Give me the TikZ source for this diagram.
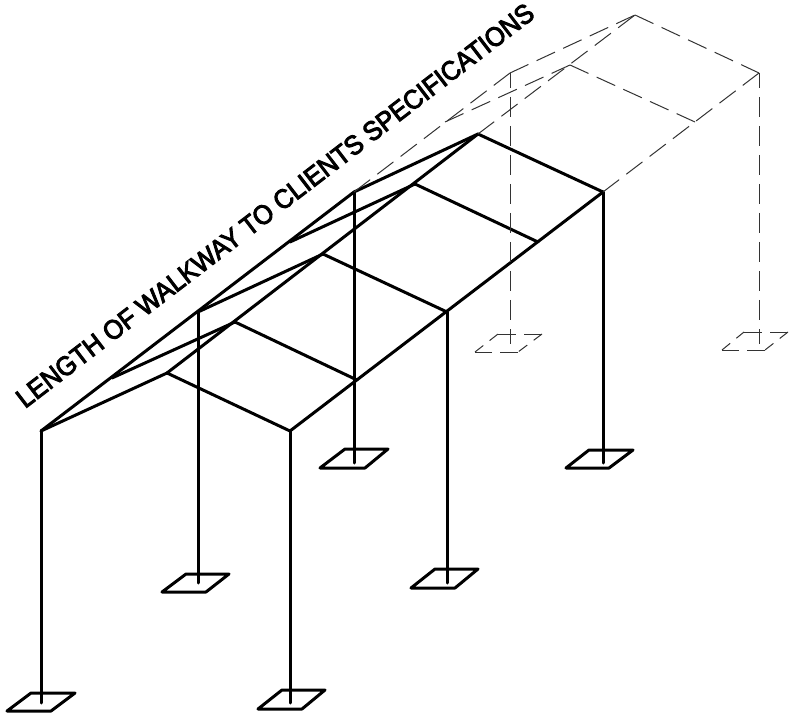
\documentclass[tikz,border=0pt]{standalone}
\usepackage{fontspec}
\newfontfamily\labfont[FakeBold=3.5,FakeStretch=0.93]{Liberation Sans}
\tikzset{
  frame/.style={line width=3pt,black,line cap=round,line join=round},
  ghost/.style={line width=1pt,black!80,dash pattern=on 20.3pt off 9pt},
  ghostpost/.style={line width=1pt,black!80,dash pattern=on 20pt off 9pt,dash phase=5pt},
  ghostlong/.style={line width=1pt,black!80,dash pattern=on 18pt off 8pt},
  ghostshort/.style={line width=1pt,black!80,dash pattern=on 10.5pt off 8pt},
}
\begin{document}
\begin{tikzpicture}[x=1pt,y=-1pt]
\useasboundingbox (0,0) rectangle (795,719);
% left eave points
\coordinate (L1) at (41,431);
\coordinate (L2) at (198,312);
\coordinate (L3) at (354,192);
\coordinate (L4) at (510,73);
% ridge points
\coordinate (R1) at (167,373);
\coordinate (R2) at (235,322);
\coordinate (R3) at (323,254);
\coordinate (R4) at (415,184);
\coordinate (R5) at (478,134);
\coordinate (R6) at (570,65);
\coordinate (R7) at (635,15);
% right eave points
\coordinate (E1) at (290,431);
\coordinate (E2) at (357,380);
\coordinate (E3) at (447,312);
\coordinate (E4) at (538,242);
\coordinate (E5) at (603,192);
\coordinate (E6) at (695,122);
\coordinate (E7) at (759,73);
% intermediate left points
\coordinate (M1) at (112,378);
\coordinate (M2) at (290,242);
\coordinate (M3) at (445,122);
% post feet
\coordinate (F1) at (41,703);
\coordinate (F2) at (198,583);
\coordinate (F3) at (290,703);
\coordinate (F4) at (447,583);
\coordinate (F5) at (354,463);
\coordinate (F6) at (603,463);
\coordinate (F7) at (510,344);
\coordinate (F8) at (759,344);
% dashed base corners
\coordinate (Ga) at (498,334);
\coordinate (Gb) at (542,334);
\coordinate (Gc) at (518,352);
\coordinate (Gd) at (475,352);
\coordinate (Ha) at (744,332);
\coordinate (Hb) at (788,332);
\coordinate (Hc) at (765,350);
\coordinate (Hd) at (722,350);
% solid frame
\draw[frame] (L1) -- (L3);
\draw[frame] (R1) -- (R5);
\draw[frame] (E1) -- (E5);
\draw[frame] (L1) -- (R1) -- (E1);
\draw[frame] (M1) -- (R2) -- (E2);
\draw[frame] (L2) -- (R3) -- (E3);
\draw[frame] (M2) -- (R4) -- (E4);
\draw[frame] (L3) -- (R5) -- (E5);
\draw[frame] (L1) -- (F1);
\draw[frame] (L2) -- (F2);
\draw[frame] (E1) -- (F3);
\draw[frame] (E3) -- (F4);
\draw[frame] (L3) -- (F5);
\draw[frame] (E5) -- (F6);
% solid bases
\draw[frame] (31,693) -- (75,693) -- (51,711) -- (7,711) -- cycle;
\draw[frame] (186,574) -- (229,574) -- (206,592) -- (162,592) -- cycle;
\draw[frame] (282,690) -- (325,690) -- (302,709) -- (258,709) -- cycle;
\draw[frame] (435,569) -- (478,569) -- (455,588) -- (411,588) -- cycle;
\draw[frame] (345,449) -- (388,449) -- (365,468) -- (320,468) -- cycle;
\draw[frame] (589,450) -- (633,450) -- (609,468) -- (566,468) -- cycle;
% dashed extension
\draw[ghost] (L3) -- (L4);
\draw[ghost] (R5) -- (R7);
\draw[ghost] (E5) -- (E7);
\draw[ghost] (L4) -- (R7);
\draw[ghost] (R7) -- (E7);
\draw[ghost] (M3) -- (R6);
\draw[ghost] (R6) -- (E6);
\draw[ghostpost] (L4) -- (F7);
\draw[ghostpost] (E7) -- (F8);
% dashed bases
\draw[ghostlong] (Ga) -- (Gb);
\draw[ghostshort] (Gb) -- (Gc);
\draw[ghostlong] (Gc) -- (Gd);
\draw[ghostshort] (Gd) -- (Ga);
\draw[ghostlong] (Ha) -- (Hb);
\draw[ghostshort] (Hb) -- (Hc);
\draw[ghostlong] (Hc) -- (Hd);
\draw[ghostshort] (Hd) -- (Ha);
% label
\node[anchor=base west,rotate=37.5,inner sep=0pt,font=\labfont\fontsize{27}{27}\selectfont] (lab) at (25,409) {LENGTH OF WALKWAY TO CLIENTS SPECIFICATIONS};
\end{tikzpicture}
\end{document}
